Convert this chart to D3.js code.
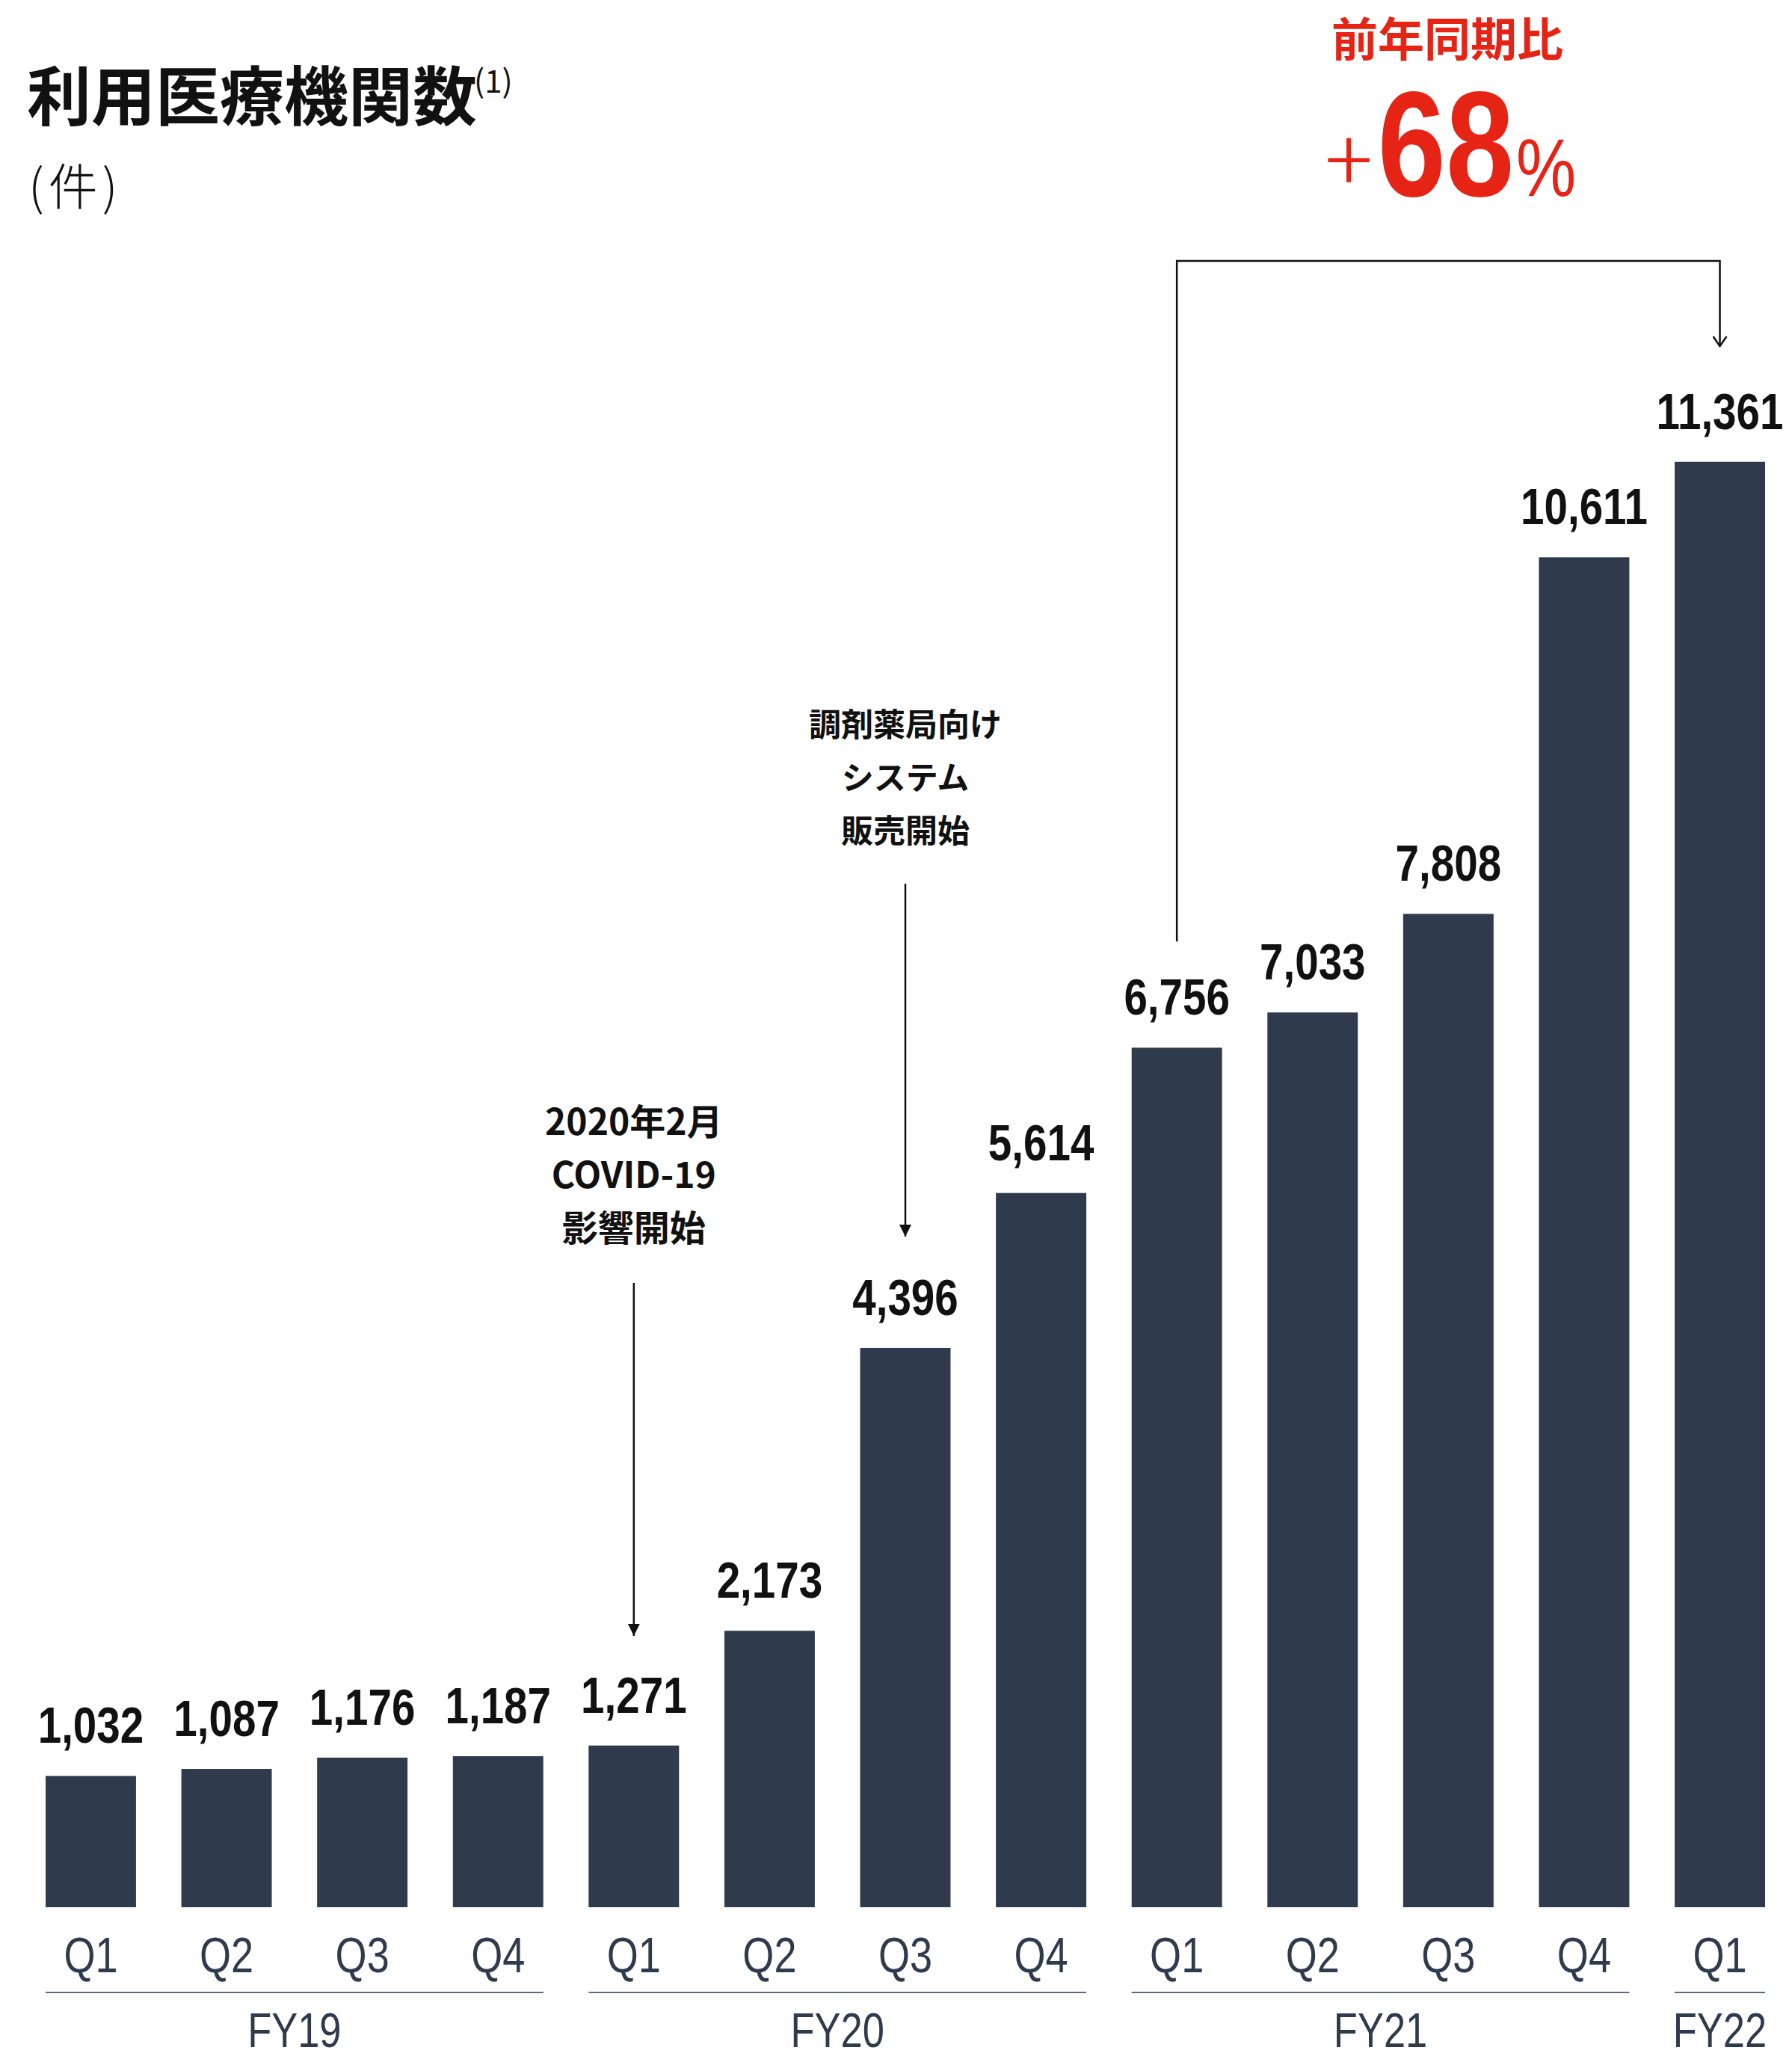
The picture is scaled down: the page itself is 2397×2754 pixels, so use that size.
<!DOCTYPE html>
<html>
<head>
<meta charset="utf-8">
<script src="https://cdn.jsdelivr.net/npm/d3@7"></script>
<style>
  html, body { margin: 0; padding: 0; background: #ffffff; }
  svg { display: block; }
</style>
</head>
<body>
<svg id="chart" width="2397" height="2754"></svg>
<script>
// ---------------- data ----------------
const quarters = ["Q1","Q2","Q3","Q4","Q1","Q2","Q3","Q4","Q1","Q2","Q3","Q4","Q1"];
const fiscalYears = ["FY19","FY19","FY19","FY19","FY20","FY20","FY20","FY20","FY21","FY21","FY21","FY21","FY22"];
const values = [1032, 1087, 1176, 1187, 1271, 2173, 4396, 5614, 6756, 7033, 7808, 10611, 11361];
const titleText = "利用医療機関数";
const titleNote = "(1)";
const unitText = "(件)";
const growthLabel = "前年同期比";
const growthValue = "68";
const covidNote = ["2020年2月", "COVID-19", "影響開始"];
const covidIndex = 4;
const pharmacyNote = ["調剤薬局向け", "システム", "販売開始"];
const pharmacyIndex = 6;
const yoyFrom = 8, yoyTo = 12;

// ---------------- setup ----------------
const svg = d3.select("#chart");
const barColor = "#2f3b4d";
const red = "#e52416";
const jp = '"Noto Sans CJK JP", "Noto Sans", sans-serif';

// condensed font detection
const cv = document.createElement("canvas").getContext("2d");
cv.font = '700 100px "Liberation Sans Narrow", serif';
const wN = cv.measureText("1,032 Q1").width;
cv.font = '700 100px "Liberation Sans", serif';
const wR = cv.measureText("1,032 Q1").width;
const narrowOK = wN / wR < 0.9;
const condFamily = narrowOK ? '"Liberation Sans Narrow", "Liberation Sans", sans-serif' : '"Liberation Sans", sans-serif';
const condScale = narrowOK ? 1 : 0.82;

function condText(parent, x, y, txt, size, weight, fill, anchor) {
  return parent.append("text")
    .attr("transform", `translate(${x},${y}) scale(${condScale},1)`)
    .attr("font-family", condFamily)
    .attr("font-size", size)
    .attr("font-weight", weight)
    .attr("fill", fill)
    .attr("text-anchor", anchor || "middle")
    .text(txt);
}

const idx = d3.range(values.length);
const x = d3.scaleBand().domain(idx).range([61, 2361]).paddingInner(0.334).paddingOuter(0);
const y = d3.scaleLinear().domain([0, 12000]).range([2551, 509]);
const cx = i => x(i) + x.bandwidth() / 2;

// ---------------- bars ----------------
svg.append("g").selectAll("rect").data(values).join("rect")
  .attr("x", (d, i) => x(i))
  .attr("y", d => y(d))
  .attr("width", x.bandwidth())
  .attr("height", d => y(0) - y(d))
  .attr("fill", barColor);

// value labels
const lblG = svg.append("g");
values.forEach((v, i) => {
  condText(lblG, cx(i), y(v) - 44, d3.format(",")(v), 69, 700, "#111111");
});

// quarter labels
const qG = svg.append("g");
quarters.forEach((q, i) => {
  condText(qG, cx(i), 2638, q, 66, 400, barColor);
});

// fiscal-year groups
const groups = d3.groups(idx, i => fiscalYears[i]);
const gG = svg.append("g");
groups.forEach(([fy, members]) => {
  const x0 = x(members[0]);
  const x1 = x(members[members.length - 1]) + x.bandwidth();
  gG.append("line")
    .attr("x1", x0).attr("x2", x1)
    .attr("y1", 2665).attr("y2", 2665)
    .attr("stroke", "#5d6878").attr("stroke-width", 2);
  condText(gG, (x0 + x1) / 2, 2738, fy, 64, 400, barColor);
});

// ---------------- title ----------------
svg.append("text")
  .attr("x", 36).attr("y", 161)
  .attr("font-family", jp).attr("font-size", 86).attr("font-weight", 700)
  .attr("fill", "#111111")
  .text(titleText);
svg.append("text")
  .attr("x", 634).attr("y", 124)
  .attr("font-family", jp).attr("font-size", 42).attr("font-weight", 400)
  .attr("fill", "#111111")
  .text(titleNote);
svg.append("text")
  .attr("x", 38).attr("y", 274)
  .attr("font-family", jp).attr("font-size", 66).attr("font-weight", 300)
  .attr("letter-spacing", 6)
  .attr("fill", "#111111")
  .text(unitText);

// ---------------- growth annotation ----------------
svg.append("text")
  .attr("x", 1936).attr("y", 76)
  .attr("text-anchor", "middle")
  .attr("font-family", jp).attr("font-size", 62).attr("font-weight", 700)
  .attr("fill", red)
  .text(growthLabel);

const gt = svg.append("g");
gt.append("text")
  .attr("x", 1804).attr("y", 258)
  .attr("text-anchor", "middle")
  .attr("font-family", jp).attr("font-size", 120).attr("font-weight", 300)
  .attr("fill", red).text("+");
condText(gt, 1934, 262, growthValue, 200, 700, red, "middle");
condText(gt, 2068, 262, "%", 110, 400, red, "middle");

// bracket connector
const defs = svg.append("defs");
defs.append("marker")
  .attr("id", "openArrow").attr("viewBox", "0 0 20 20")
  .attr("refX", 10).attr("refY", 18).attr("markerWidth", 20).attr("markerHeight", 20)
  .attr("markerUnits", "userSpaceOnUse").attr("orient", "0")
  .append("path").attr("d", "M1,5 L10,18 L19,5")
  .attr("fill", "none").attr("stroke", "#111").attr("stroke-width", 2.5);
defs.append("marker")
  .attr("id", "fillArrow").attr("viewBox", "0 0 16 16")
  .attr("refX", 8).attr("refY", 16).attr("markerWidth", 16).attr("markerHeight", 16)
  .attr("markerUnits", "userSpaceOnUse").attr("orient", "0")
  .append("path").attr("d", "M0,0 L16,0 L8,16 Z").attr("fill", "#111");

svg.append("path")
  .attr("d", `M${cx(yoyFrom)},${y(values[yoyFrom]) - 142} V349 H${cx(yoyTo)} V463`)
  .attr("fill", "none").attr("stroke", "#111").attr("stroke-width", 2.5)
  .attr("marker-end", "url(#openArrow)");

// ---------------- event annotations ----------------
function eventNote(lines, i, textY0, lineTop, lineBottom, size) {
  const g = svg.append("g");
  lines.forEach((t, k) => {
    g.append("text")
      .attr("x", cx(i)).attr("y", textY0 + k * 71)
      .attr("text-anchor", "middle")
      .attr("font-family", jp).attr("font-size", size).attr("font-weight", 700)
      .attr("fill", "#111111")
      .text(t);
  });
  g.append("line")
    .attr("x1", cx(i)).attr("x2", cx(i))
    .attr("y1", lineTop).attr("y2", lineBottom)
    .attr("stroke", "#111").attr("stroke-width", 2.5)
    .attr("marker-end", "url(#fillArrow)");
}
eventNote(covidNote, covidIndex, 1518, 1716, 2188, 48);
eventNote(pharmacyNote, pharmacyIndex, 985, 1182, 1654, 43);
</script>
</body>
</html>
